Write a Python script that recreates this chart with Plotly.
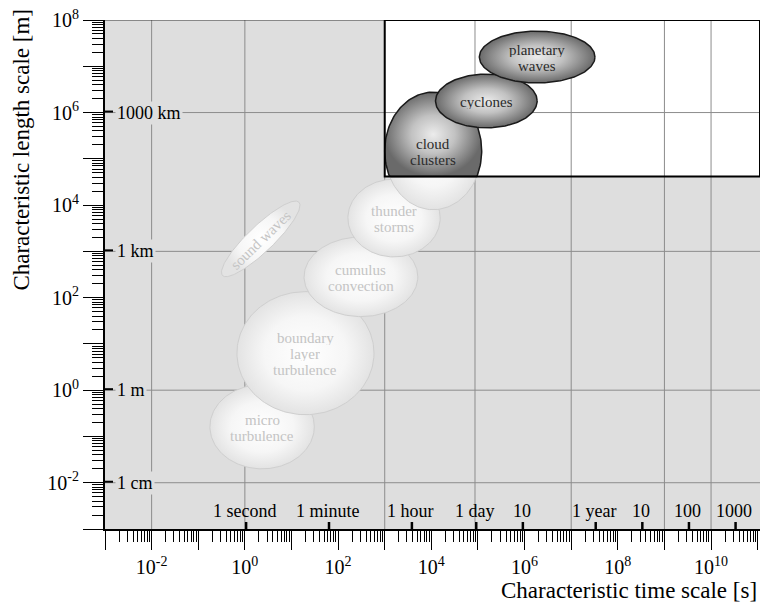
import numpy as np
import plotly.graph_objects as go

# ---------------- data ----------------
# axis extents, log10 units
x_range_log = [-3, 11.05]          # characteristic time [s]
y_range_log = [-3, 8]              # characteristic length [m]

# phenomena (log10 of time in s, log10 of length in m), semi-axes in decades
phen_names = ["sound waves", "micro<br>turbulence", "boundary<br>layer<br>turbulence",
              "cumulus<br>convection", "thunder<br>storms", "cloud<br>clusters",
              "cyclones", "planetary<br>waves"]
phen_logt = [0.34, 0.37, 1.30, 2.49, 3.20, 4.04, 5.18, 6.27]
phen_logl = [3.27, -0.79, 0.80, 2.45, 3.72, 5.17, 6.25, 7.20]
phen_semi_t = [1.14, 1.12, 1.47, 1.22, 0.99, 1.04, 1.09, 1.24]
phen_semi_l = [0.28, 0.91, 1.33, 0.86, 0.84, 1.27, 0.58, 0.56]
phen_tilt = [44, 0, 0, 0, 0, 0, 0, 0]
phen_synoptic = [False, False, False, False, False, True, True, True]

# synoptic box (log10)
box_logt = [3, 11.05]
box_logl = [4.62, 8]

# grid lines
grid_t = [1e-2, 1, 1e3, 86400, 1e7, 1e9, 1e10]
grid_l = [1e-2, 1, 1e3, 1e6]

# named scale markers
len_vals = [1e-2, 1, 1e3, 1e6]
len_labels = ["1 cm", "1 m", "1 km", "1000 km"]
time_vals = [1, 60, 3600, 86400, 864000, 3.156e7, 3.156e8, 3.156e9, 3.156e10]
time_labels = ["1 second", "1 minute", "1 hour", "1 day", "10", "1 year", "10", "100", "1000"]

# axis ticks
x_decades = list(range(-3, 12))
y_decades = list(range(-3, 9))

# ---------------- figure ----------------
SERIF = "Liberation Serif"
BG = "#dedede"

def ellipse(cx, cy, a, b, tilt, n=180):
    t = np.linspace(0, 2 * np.pi, n)
    th = np.deg2rad(tilt)
    ex = a * np.cos(t)
    ey = b * np.sin(t)
    lx = cx + ex * np.cos(th) - ey * np.sin(th)
    ly = cy + ex * np.sin(th) + ey * np.cos(th)
    return lx, ly

light_scale = [[0, "#ffffff"], [0.6, "#f6f6f6"], [1, "#e3e3e3"]]
dark_scale = [[0, "#ececec"], [0.45, "#c2c2c2"], [1, "#6a6a6a"]]

fig = go.Figure()

def add_shape_trace(lx, ly, dark):
    fig.add_trace(go.Scatter(
        x=10 ** np.asarray(lx), y=10 ** np.asarray(ly), mode="lines",
        fill="toself",
        fillgradient=dict(type="radial", colorscale=dark_scale if dark else light_scale),
        line=dict(color="#1a1a1a" if dark else "#cfcfcf", width=1.5 if dark else 1),
        hoverinfo="skip", showlegend=False))

for i in range(len(phen_names)):
    lx, ly = ellipse(phen_logt[i], phen_logl[i], phen_semi_t[i], phen_semi_l[i], phen_tilt[i])
    if phen_synoptic[i] and phen_logl[i] - phen_semi_l[i] < box_logl[0]:
        # lower part outside the box is light, upper part dark
        add_shape_trace(lx, ly, False)
        lyc = np.where(ly >= box_logl[0], ly, box_logl[0])
        add_shape_trace(lx, lyc, True)
    else:
        add_shape_trace(lx, ly, phen_synoptic[i])

# labels in ellipses (each line placed separately for tight leading)
LEAD = 16
for i in range(len(phen_names)):
    lines = phen_names[i].split("<br>")
    n = len(lines)
    for j, ln in enumerate(lines):
        fig.add_annotation(
            x=phen_logt[i], y=phen_logl[i], text=ln, showarrow=False,
            textangle=-phen_tilt[i], yshift=((n - 1) / 2 - j) * LEAD - 1,
            height=14, borderpad=0, valign="middle",
            font=dict(family=SERIF, size=15,
                      color="#2b2b2b" if phen_synoptic[i] else "#c4c4c4"))

shapes = []
# white synoptic box
shapes.append(dict(type="rect", layer="below", xref="x", yref="y",
                   x0=10 ** box_logt[0], x1=10 ** box_logt[1],
                   y0=10 ** box_logl[0], y1=10 ** box_logl[1],
                   fillcolor="white", line=dict(width=0)))
for g in grid_t:
    shapes.append(dict(type="line", layer="below", xref="x", yref="y",
                       x0=g, x1=g, y0=10 ** y_range_log[0], y1=10 ** y_range_log[1],
                       line=dict(color="#8c8c8c", width=1)))
for g in grid_l:
    shapes.append(dict(type="line", layer="below", xref="x", yref="y",
                       x0=10 ** x_range_log[0], x1=10 ** x_range_log[1], y0=g, y1=g,
                       line=dict(color="#8c8c8c", width=1)))
# top border of plot
shapes.append(dict(type="line", layer="above", xref="x", yref="y",
                   x0=10 ** x_range_log[0], x1=10 ** box_logt[0],
                   y0=10 ** y_range_log[1], y1=10 ** y_range_log[1],
                   line=dict(color="#333", width=1)))
# box border
shapes.append(dict(type="rect", layer="above", xref="x", yref="y",
                   x0=10 ** box_logt[0], x1=10 ** box_logt[1],
                   y0=10 ** box_logl[0], y1=10 ** box_logl[1],
                   fillcolor="rgba(0,0,0,0)", line=dict(color="black", width=2)))
# length markers
for v in len_vals:
    shapes.append(dict(type="rect", layer="above", xref="x", yref="y",
                       xsizemode="pixel", xanchor=10 ** x_range_log[0], x0=0, x1=8,
                       ysizemode="pixel", yanchor=v, y0=-2, y1=2,
                       fillcolor="black", line=dict(width=0)))
# time markers
for v in time_vals:
    shapes.append(dict(type="rect", layer="above", xref="x", yref="y",
                       xsizemode="pixel", xanchor=v, x0=-2.5, x1=2.5,
                       ysizemode="pixel", yanchor=10 ** y_range_log[0], y0=0, y1=7,
                       fillcolor="black", line=dict(width=0)))

for v, lab in zip(len_vals, len_labels):
    fig.add_annotation(x=x_range_log[0], y=np.log10(v), text=lab, showarrow=False,
                       xanchor="left", yanchor="middle", xshift=10,
                       bgcolor=BG, borderpad=1,
                       font=dict(family=SERIF, size=18, color="black"))
for v, lab in zip(time_vals, time_labels):
    fig.add_annotation(x=np.log10(v), y=y_range_log[0], text=lab, showarrow=False,
                       xanchor="center", yanchor="bottom", yshift=6,
                       font=dict(family=SERIF, size=18, color="black"))

# axis titles
fig.add_annotation(xref="paper", yref="paper", x=-0.127, y=0.745,
                   xanchor="center", yanchor="middle",
                   text="Characteristic length scale [m]", textangle=-90,
                   showarrow=False, font=dict(family=SERIF, size=23, color="black"))
fig.add_annotation(xref="paper", yref="paper", x=0.998, y=-0.12,
                   xanchor="right", yanchor="middle",
                   text="Characteristic time scale [s]",
                   showarrow=False, font=dict(family=SERIF, size=23, color="black"))

def tick_text(decs):
    return [f"10<sup>{d}</sup>" if d % 2 == 0 and d > -3 else "" for d in decs]

def minor_vals(decs):
    return [m * 10.0 ** d for d in decs for m in range(2, 10)]

axis_common = dict(type="log", showgrid=False, zeroline=False, showline=True,
                   linecolor="black", linewidth=2, ticks="outside", tickcolor="black",
                   tickwidth=1.2, tickfont=dict(family=SERIF, size=20, color="black"))

fig.update_layout(
    width=760, height=605,
    margin=dict(l=105, r=0, t=20, b=76),
    paper_bgcolor="white", plot_bgcolor=BG,
    shapes=shapes, showlegend=False,
    xaxis=dict(range=x_range_log, tickmode="array",
               tickvals=[10.0 ** d for d in x_decades], ticktext=tick_text(x_decades),
               ticklen=19,
               minor=dict(tickmode="array", tickvals=minor_vals(x_decades), ticks="outside",
                          ticklen=11, tickcolor="black", tickwidth=1, showgrid=False),
               **axis_common),
    yaxis=dict(range=y_range_log, tickmode="array",
               tickvals=[10.0 ** d for d in y_decades], ticktext=tick_text(y_decades),
               ticklen=20,
               minor=dict(tickmode="array", tickvals=minor_vals(y_decades), ticks="outside",
                          ticklen=11, tickcolor="black", tickwidth=1, showgrid=False),
               **axis_common),
)

fig.write_html("out.html")
